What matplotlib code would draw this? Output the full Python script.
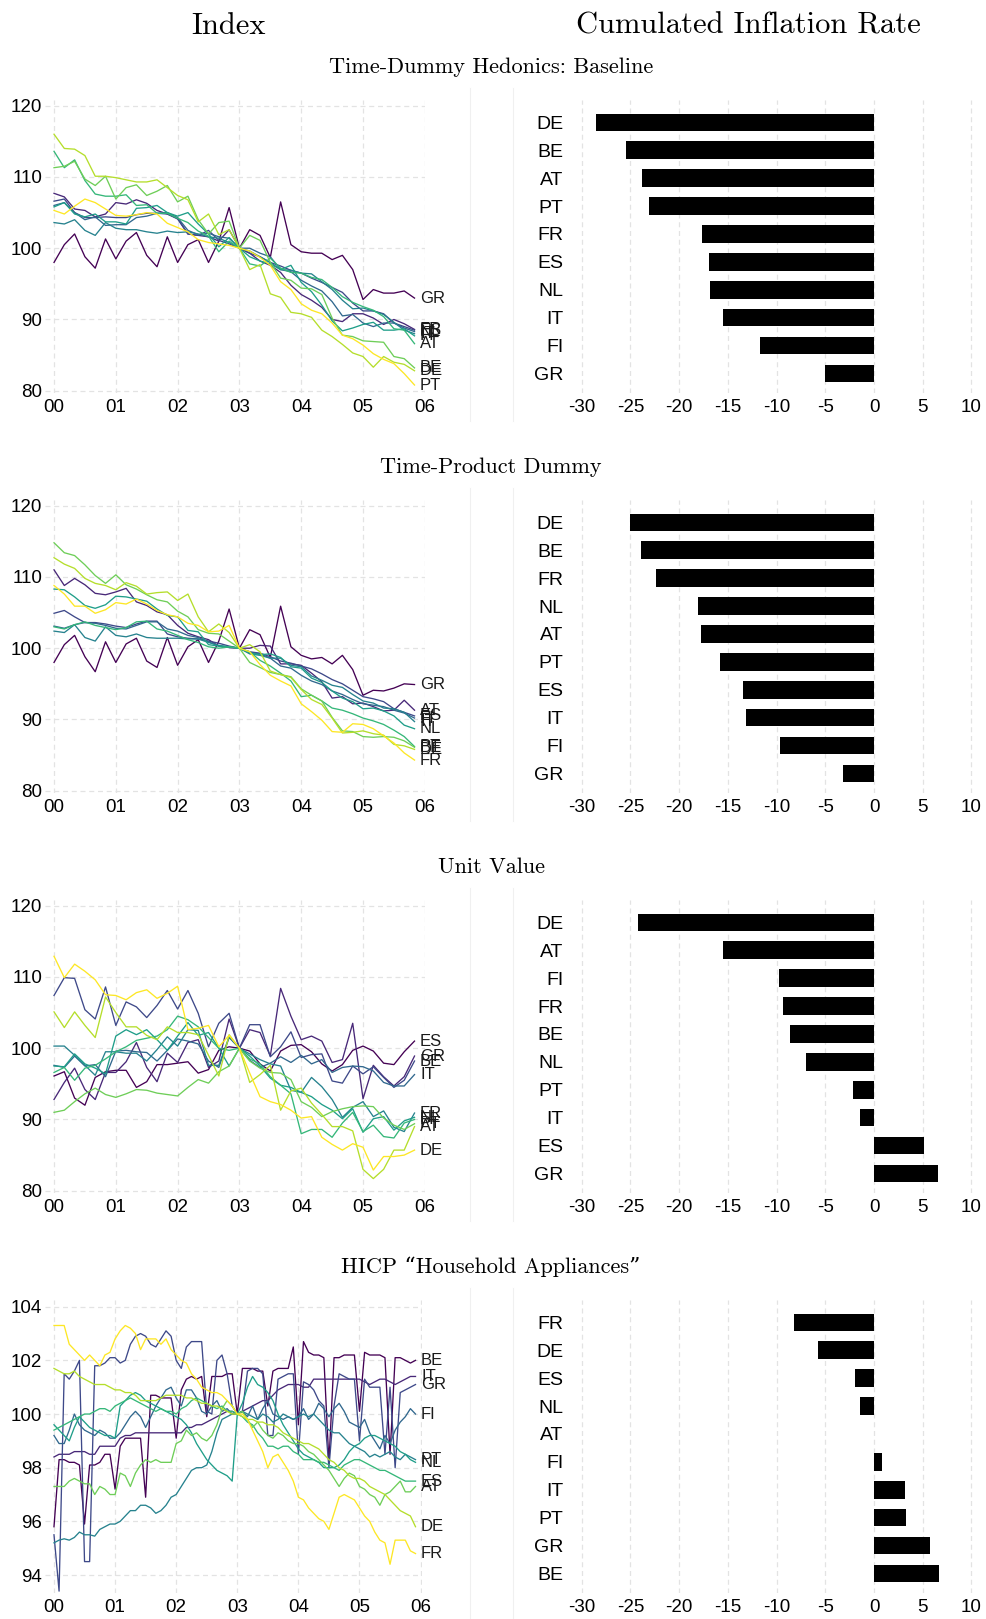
import numpy as np
import matplotlib
matplotlib.use("Agg")
import matplotlib.pyplot as plt
from matplotlib.lines import Line2D

plt.rcParams['font.family'] = ['Liberation Sans', 'DejaVu Sans']
plt.rcParams['axes.unicode_minus'] = False

# ---------------- data ----------------
t_bi = 2000 + np.arange(36) / 6.0      # bi-monthly, panels 1-3
t_mo = 2000 + np.arange(72) / 12.0     # monthly, HICP panel

baseline_idx = {
    "GR": [98, 100.5, 102, 98.8, 97.2, 101.3, 98.5, 101, 102.2, 99, 97.4, 101.6,
           98, 100.5, 101.2, 98, 101, 105.7, 100, 102.6, 101.8, 98.7, 106.5, 100.5,
           99.5, 99.3, 99.3, 98.4, 99, 97, 92.8, 94.2, 93.7, 93.7, 94, 93],
    "FR": [107.7, 107.2, 105.5, 105.3, 104.4, 104.8, 106.4, 106.2, 106.8, 106.3, 105.3, 104.8,
           104.2, 102, 101.8, 101.6, 101, 102.6, 100, 99.3, 98.2, 97.6, 96.6, 94.8,
           93.5, 92.7, 91.7, 90, 89.7, 90.8, 90.8, 90.2, 89.3, 90, 89.4, 88.6],
    "ES": [106.6, 106.9, 105, 104.3, 104.3, 104.4, 104.3, 104.3, 104.7, 104.9, 104.9, 104.8,
           104.1, 102, 101.8, 102.5, 101.1, 100.6, 100, 99.3, 98.8, 98, 97.5, 96.9,
           96.5, 95.8, 95.2, 94.5, 93.8, 92.3, 91.2, 91.2, 90.8, 89.5, 89, 88.5],
    "NL": [106, 106.4, 105, 104, 104.4, 103.2, 103.3, 103.3, 104.3, 104.5, 104.9, 105,
           104.3, 102.5, 101.9, 102.1, 101.6, 101.4, 100, 100, 99.3, 98.8, 97, 96.7,
           95.5, 94.7, 94, 92.5, 90.5, 90.7, 89.5, 89, 89.5, 89.5, 88.8, 88.3],
    "IT": [103.6, 103.4, 104, 102.5, 101.8, 103.6, 102.8, 102.6, 102.6, 102.3, 102.1, 102.4,
           102.2, 102.3, 102, 101.6, 101.4, 100.8, 100, 99.6, 98.8, 98, 97, 96.9,
           96.5, 96.4, 95.3, 94.2, 92.7, 91.5, 91.6, 91.2, 90.7, 89.6, 88.5, 88.0],
    "FI": [105.8, 106.4, 104.8, 104.4, 104.8, 103.7, 103.7, 103.4, 105.6, 105.7, 106.0, 105.0,
           104.5, 105, 103.4, 102, 100.2, 101.5, 100, 98.8, 98.2, 97.8, 97, 97.6,
           95.2, 93.9, 92, 89.8, 88.4, 88.8, 89.3, 89.6, 88.5, 88.5, 88.7, 87.7],
    "AT": [113.6, 111.3, 112.4, 109.5, 107.6, 107.3, 107.3, 107.5, 106.0, 106.1, 104.9, 104.9,
           104.2, 103.6, 102.4, 101.7, 99.5, 101, 100, 97.8, 97.5, 98.6, 97.2, 96.6,
           96.5, 95.9, 95.6, 94.5, 93.2, 92.4, 91.8, 91.3, 90.4, 88.7, 88.5, 86.6],
    "BE": [111.3, 111.5, 112.2, 109.7, 108.8, 110.1, 106.9, 108.5, 108.9, 107.4, 108, 108.8,
           106.5, 107.3, 104, 102, 103.6, 103.8, 100, 101.8, 101.1, 98, 95.8, 95.5,
           94.4, 94.3, 93.5, 90.2, 87.8, 87.6, 87, 86.9, 86.8, 84.8, 84.5, 83.2],
    "DE": [116, 114, 113.9, 113, 110.1, 110.1, 109.9, 109.6, 109.3, 109.3, 109.6, 108.5,
           107.4, 106.8, 103.7, 104.8, 101.9, 102.6, 100, 97, 97.7, 93.6, 93.1, 91,
           90.8, 90.3, 88.5, 87.6, 86.5, 85.3, 84.8, 83.3, 84.8, 84, 83.7, 82.8],
    "PT": [105.3, 104.8, 105.9, 106.9, 106.4, 105.5, 104.6, 104.5, 104.7, 105, 104.8, 103.5,
           102.9, 102.3, 101.2, 100.8, 100.6, 100.4, 100, 99.6, 98.7, 97.6, 95.3, 94.2,
           92.2, 91.3, 90.8, 89.5, 87.8, 87.3, 86.4, 85.2, 84.4, 83.8, 82.4, 80.8],
}

tpd_idx = {
    "GR": [98, 100.5, 101.8, 98.8, 96.7, 100.9, 98, 100.6, 101.4, 98.2, 97.3, 101.5,
           97.6, 100.2, 101.2, 98, 101, 105.5, 100, 102.6, 101.9, 98.7, 105.9, 100.2,
           99, 98.5, 98.7, 97.8, 99, 97, 93.4, 94.1, 94, 94.4, 95, 94.9],
    "AT": [111, 108.8, 109.8, 108.9, 107.7, 107.5, 107.9, 108.4, 106.5, 106, 105.1, 104.7,
           103.2, 102.1, 101.6, 101.2, 100.3, 100.1, 100, 100, 100.4, 100.3, 97.8, 97.8,
           97.6, 96.5, 95.3, 93, 93.2, 92.2, 92.3, 91.8, 91.2, 91.3, 92.7, 91.3],
    "ES": [104.9, 105.3, 104.4, 103.6, 103.6, 103.4, 103.1, 102.9, 103.4, 103.8, 103.8, 102,
           101.6, 101.4, 101.3, 101, 100.7, 100.3, 100, 99.5, 99.3, 98.8, 98.2, 97.9,
           97.5, 97.1, 96.4, 95.6, 95, 94.1, 93.2, 92.9, 92.5, 91.5, 91, 90.5],
    "FI": [103.1, 102.8, 103.3, 103.6, 103.5, 103.2, 102.8, 102.7, 103.2, 103.7, 103.7, 102.7,
           102.4, 101.8, 101.5, 100.9, 100.3, 100.1, 100, 99.4, 99.2, 98.6, 97.5, 97.2,
           96.2, 95.4, 94.9, 94, 93.5, 92.8, 92.2, 92, 91.8, 91.3, 90.9, 90.2],
    "IT": [102.4, 102.2, 103.3, 101.5, 101, 103, 101.8, 101.6, 102, 101.5, 101.4, 101.4,
           101.4, 101.3, 101.3, 100.8, 100.4, 100.2, 100, 99.2, 99, 98.6, 98.6, 97.6,
           97.4, 96.1, 95.5, 94.8, 94.5, 93.5, 92.6, 92.3, 91.6, 91.5, 91, 89.7],
    "NL": [108.3, 108.2, 107.2, 106, 105.6, 106.1, 107.3, 107.2, 106.9, 106.6, 105.5, 104.6,
           104.4, 102.5, 102.3, 100.5, 100.3, 100.2, 100, 99.3, 99.1, 99.2, 98.7, 97.4,
           97.2, 95.8, 95.2, 94, 93, 92.5, 91.5, 91.6, 91.2, 90.5, 89.2, 88.7],
    "PT": [103, 102.7, 103.3, 103.7, 103.2, 102.9, 102.6, 102.9, 103.7, 103.8, 102.7, 102.4,
           101.8, 101.2, 100.8, 100.2, 100, 100.2, 100, 99.5, 98.3, 97.5, 96.5, 95.4,
           93.2, 93.4, 92.6, 91.6, 91.3, 90.8, 90.2, 89.8, 89.3, 88.5, 87.6, 86.2],
    "BE": [114.8, 113.4, 113, 111.7, 110.2, 109.1, 110.3, 108.9, 108.3, 107.5, 106.8, 106.5,
           105.2, 104.4, 102.6, 102.1, 102, 101, 100, 98, 97.3, 96.6, 96.3, 96,
           94.3, 93.4, 92.6, 90.3, 88.4, 88.3, 87.6, 87.5, 87.6, 87.5, 87, 86.1],
    "DE": [112.7, 111.8, 111.2, 109.8, 109.1, 108.8, 108.2, 109.2, 108.7, 107.6, 107.8, 107.9,
           106.7, 107.6, 104.4, 102.3, 103.4, 102.2, 100, 100.5, 99.5, 96.8, 96.3, 95.9,
           94.2, 92.8, 92.1, 90.2, 88.1, 88.2, 88.4, 88, 87.8, 86.5, 86.3, 85.8],
    "FR": [108.8, 107.6, 105.9, 105.9, 104.9, 105.4, 106.4, 106.2, 106.9, 106.2, 105.3, 104.7,
           104.4, 103.5, 103.2, 102.3, 102.4, 103.2, 100, 99.5, 97.7, 96.2, 95.4, 94.7,
           92.2, 91.1, 89.9, 88.3, 88.2, 89.4, 89.3, 88.7, 87.7, 86.7, 85.3, 84.3],
}

uv_idx = {
    "ES": [96.1, 96.7, 93, 92, 95.9, 96.7, 96.9, 96.9, 94.5, 95.3, 97.7, 97.7,
           97.9, 98.1, 96.5, 97, 99.7, 100.2, 100, 99.6, 97.8, 96.8, 99.6, 100.4,
           100.5, 99.5, 97.8, 96.8, 97.7, 99.7, 100.3, 99.6, 97.9, 97.7, 99.5, 101],
    "GR": [92.8, 95.2, 97.2, 94.2, 92.8, 96.6, 96.6, 98.1, 100.8, 97.3, 95.3, 99.3,
           98.0, 100.8, 101.2, 97.3, 98.2, 104.1, 100, 102.6, 102.2, 98.9, 108.4, 104.5,
           101.2, 101.7, 101.0, 98.0, 98.4, 103.5, 92.9, 97.6, 96.0, 94.7, 96.0, 98.9],
    "BE": [107.4, 109.9, 109.8, 105.4, 104.1, 108.6, 103.2, 106.5, 105.8, 104.3, 106.0, 108.1,
           105.5, 108.1, 104.9, 100.2, 103.5, 104.9, 100, 103.3, 103.3, 98.8, 100.2, 102.3,
           98.7, 99.1, 99.2, 95.4, 95.1, 97.5, 96.4, 97.4, 95.9, 94.5, 95.5, 98.2],
    "IT": [97.6, 97.3, 98.9, 97.5, 97.7, 96.0, 99.6, 99.7, 99.5, 99.4, 98.2, 99.7,
           101.3, 101.0, 100.6, 98.2, 97.3, 101.5, 100, 98.3, 97.3, 97.9, 98.8, 98.0,
           99.0, 97.8, 98.4, 96.6, 97.3, 97.5, 97.4, 96.8, 95.2, 94.7, 94.7, 96.3],
    "FR": [100.3, 100.3, 99.0, 97.6, 96.2, 99.5, 99.5, 99.3, 99.3, 98.2, 99.8, 101.6,
           100.3, 102.6, 102.5, 97.6, 97.6, 101.6, 100, 99.2, 98.4, 97.8, 97.5, 94.1,
           93.8, 95.9, 94.6, 92.8, 90.3, 91.7, 92.5, 90.4, 91.2, 88.9, 88.3, 90.9],
    "NL": [97.5, 97.4, 99.2, 97.8, 97.2, 96.4, 101.7, 102.6, 101.9, 102.6, 101.2, 99.7,
           101.7, 103.6, 101.8, 102.2, 100, 97.5, 100, 98.9, 97.5, 95.8, 94.8, 94.5,
           93.8, 93.2, 92.1, 91.3, 90.1, 91.5, 88.2, 90.1, 90.4, 88.5, 89.8, 90.3],
    "FI": [96.6, 97.3, 95.5, 97.2, 97.6, 98.5, 99.5, 100.2, 101.1, 101.4, 101.7, 102.6,
           104.5, 104, 103, 101.5, 100, 99.7, 100, 98.5, 97.8, 96, 94.8, 93.6,
           88, 88.6, 88.6, 87.5, 89.5, 91, 88.3, 89.2, 87.6, 87.4, 89.5, 90.0],
    "PT": [91, 91.3, 92.5, 93.6, 94.4, 93.5, 93.1, 93.6, 94.2, 94.1, 93.7, 93.5,
           93.3, 94.5, 95.6, 95.1, 96.7, 97.5, 100, 98.2, 97.2, 96.6, 96.5, 95.6,
           92.5, 91.7, 90.4, 91.1, 91.5, 91.8, 91.9, 91.8, 90.2, 89.2, 88.6, 89.4],
    "AT": [105.1, 102.9, 105.1, 103.2, 101.5, 107.2, 105, 103, 103, 101.8, 101.2, 103,
           102.2, 102.2, 101.9, 99, 96.1, 101.9, 100, 95.2, 96.3, 97.6, 91.3, 94,
           94.4, 92.3, 90.7, 89, 89, 88.4, 83, 81.7, 83, 85.7, 85.7, 89.0],
    "DE": [112.9, 109.9, 111.8, 110.8, 109.6, 107.5, 107.4, 106.8, 107.8, 108.2, 107, 107.7,
           108.7, 102.6, 102.8, 103.2, 100.2, 101.8, 100, 96.5, 93.2, 92.5, 92.1, 91.3,
           90.2, 90.4, 87.5, 86.5, 85.7, 86.6, 86.1, 82.9, 84.8, 84.8, 85.0, 85.7],
}

hicp_idx = {
    "BE": [95.8, 98.3, 98.3, 98.2, 98.2, 98.1, 95.9, 98.1, 98.1, 98.2, 98.5, 98.5,
           97.2, 98.8, 99.1, 99.1, 99.1, 99.1, 96.9, 100.7, 100.7, 100.6, 100.6, 100.6,
           99.1, 100.9, 101.3, 101.4, 101.3, 101.4, 99.9, 101.4, 101.4, 101.4, 101.5, 101.5,
           100.0, 101.7, 101.7, 101.7, 101.6, 101.6, 100.3, 101.6, 101.7, 101.7, 101.7, 102.5,
           99.6, 102.7, 102.3, 102.2, 102.2, 102.1, 98.2, 102.1, 102.1, 102.2, 102.2, 102.2,
           100.1, 102.3, 102.2, 102.2, 102.2, 102.1, 98.5, 102.1, 102.1, 102.0, 101.9, 102.0],
    "IT": [98.4, 98.5, 98.5, 98.5, 98.6, 98.6, 98.6, 98.5, 98.5, 98.8, 98.8, 98.8,
           98.8, 99.1, 99.2, 99.2, 99.3, 99.3, 99.3, 99.3, 99.3, 99.3, 99.3, 99.3,
           99.3, 99.3, 99.5, 99.5, 99.6, 99.6, 99.7, 99.8, 99.9, 100.0, 100.1, 100.1,
           100.0, 100.1, 100.2, 100.3, 100.4, 100.5, 100.5, 100.7, 100.9, 101.0, 101.1, 101.1,
           101.1, 101.0, 101.0, 101.3, 101.3, 101.3, 101.3, 101.3, 101.3, 101.3, 101.3, 101.3,
           101.3, 101.2, 101.1, 101.2, 101.3, 101.3, 101.2, 101.1, 101.2, 101.3, 101.4, 101.4],
    "GR": [95.5, 93.4, 101.5, 101.3, 101.6, 102.0, 94.5, 94.5, 101.8, 101.8, 101.9, 102.1,
           102.1, 101.9, 102.0, 102.6, 102.9, 103.0, 102.9, 102.6, 102.5, 102.8, 103.1, 102.9,
           102.0, 101.7, 102.5, 102.7, 102.7, 102.7, 100.1, 100.0, 102.0, 102.2, 101.5, 100.3,
           100.0, 100.1, 101.6, 101.7, 101.7, 101.5, 99.2, 99.2, 101.3, 101.4, 101.5, 101.5,
           98.5, 101.2, 101.1, 100.9, 100.5, 100.3, 98.0, 100.3, 101.5, 101.4, 101.3, 101.3,
           99.0, 101.3, 101.0, 101.0, 101.0, 98.5, 101.0, 98.0, 100.8, 100.9, 101.0, 101.1],
    "FI": [99.2, 98.9, 98.9, 99.4, 100.0, 99.6, 99.4, 99.3, 99.2, 99.4, 99.3, 99.1,
           99.1, 99.3, 99.6, 99.9, 100.1, 99.9, 99.5, 99.9, 100.3, 100.6, 100.9, 101.0,
           100.6, 100.3, 100.9, 100.9, 100.6, 100.1, 100.0, 100.3, 100.5, 100.1, 100.2, 100.0,
           100.0, 100.1, 99.9, 100.3, 99.8, 100.2, 100.5, 100.0, 99.9, 99.8, 99.9, 99.8,
           99.9, 100.2, 99.8, 100.0, 100.4, 100.2, 99.9, 100.2, 100.4, 100.1, 99.7, 99.6,
           99.5, 99.8, 99.3, 99.0, 98.7, 99.2, 98.9, 99.4, 99.7, 99.9, 100.2, 100.0],
    "PT": [95.2, 95.3, 95.35, 95.3, 95.4, 95.6, 95.5, 95.5, 95.45, 95.7, 95.8, 95.9,
           95.9, 96.0, 96.2, 96.4, 96.4, 96.6, 96.6, 96.5, 96.3, 96.4, 96.6, 96.9,
           97.0, 97.3, 97.6, 97.9, 98.0, 98.0, 98.1, 98.6, 99.3, 99.8, 99.9, 100.0,
           100.0, 100.1, 100.0, 99.9, 99.8, 100.0, 99.9, 99.7, 99.8, 100.0, 99.9, 99.8,
           99.9, 100.0, 99.9, 100.0, 99.8, 99.6, 99.4, 99.3, 99.3, 99.1, 98.9, 98.8,
           98.7, 98.6, 98.4, 98.5, 98.4, 98.5, 98.6, 98.4, 98.3, 98.5, 98.4, 98.3],
    "NL": [99.6, 99.4, 99.2, 99.0, 99.5, 99.9, 99.7, 99.5, 99.4, 99.3, 99.2, 99.2,
           99.1, 100.3, 100.5, 100.7, 100.8, 100.7, 100.5, 100.4, 100.3, 100.2, 100.1, 100.0,
           99.9, 99.8, 99.6, 99.3, 98.9, 98.6, 98.3, 98.1, 97.9, 97.8, 97.7, 97.5,
           100.0, 100.4, 101.0, 101.4, 101.1, 101.0, 100.8, 100.5, 100.0, 99.6, 99.3, 99.0,
           98.7, 98.5, 98.4, 98.3, 98.2, 98.0, 98.0, 98.0, 98.1, 98.3, 98.6, 98.8,
           98.9, 99.1, 99.2, 99.2, 99.1, 99.0, 98.9, 98.8, 98.6, 98.5, 98.3, 98.2],
    "ES": [99.4, 99.5, 99.6, 99.7, 99.8, 99.9, 100.0, 100.0, 100.1, 100.2, 100.2, 100.1,
           100.3, 100.4, 100.5, 100.6, 100.5, 100.4, 100.3, 100.2, 100.1, 100.2, 100.1, 100.1,
           100.0, 100.2, 100.3, 100.5, 100.6, 100.5, 100.4, 100.3, 100.2, 100.3, 100.1, 100.1,
           100.0, 99.9, 99.7, 99.6, 99.3, 99.1, 98.8, 98.8, 98.7, 98.8, 98.8, 98.6,
           98.5, 98.3, 98.3, 98.3, 98.2, 98.2, 98.1, 98.0, 97.9, 98.1, 98.2, 98.3,
           98.3, 98.2, 98.1, 98.0, 97.9, 97.9, 97.8, 97.7, 97.6, 97.5, 97.5, 97.5],
    "AT": [97.3, 97.3, 97.3, 97.5, 97.6, 97.5, 97.4, 97.4, 97.0, 97.3, 97.2, 97.0,
           97.0, 97.8, 97.7, 97.3, 97.8, 98.1, 98.3, 98.2, 98.3, 98.2, 98.2, 98.2,
           98.9, 99.0, 99.4, 99.2, 99.3, 99.1, 99.0, 99.2, 99.6, 100.2, 100.5, 100.3,
           100.0, 100.1, 99.8, 99.5, 99.7, 99.4, 99.2, 99.1, 99.3, 99.2, 99.0, 98.9,
           98.9, 98.8, 98.6, 98.5, 98.3, 98.1, 97.9, 97.6, 97.3, 97.6, 97.8, 97.7,
           97.3, 97.2, 97.0, 96.9, 96.6, 97.0, 97.1, 97.3, 97.5, 97.1, 97.1, 97.3],
    "DE": [101.7, 101.6, 101.5, 101.5, 101.6, 101.4, 101.3, 101.2, 101.1, 101.1, 101.1, 101.0,
           100.9, 100.9, 100.8, 100.8, 100.7, 100.5, 100.5, 100.5, 100.5, 100.6, 100.7, 100.7,
           100.7, 100.7, 100.6, 100.6, 100.5, 100.4, 100.4, 100.3, 100.3, 100.2, 100.1, 100.0,
           100.0, 99.9, 99.8, 99.8, 99.7, 99.7, 99.6, 99.6, 99.5, 99.3, 99.2, 99.1,
           99.0, 98.9, 98.9, 98.8, 98.7, 98.5, 98.3, 98.2, 98.0, 97.9, 97.7, 97.6,
           97.6, 97.5, 97.3, 97.2, 97.1, 97.0, 96.8, 96.6, 96.4, 96.3, 96.2, 95.8],
    "FR": [103.3, 103.3, 103.3, 102.6, 102.4, 102.2, 102.0, 102.2, 102.0, 101.8, 102.2, 102.3,
           102.8, 103.1, 103.3, 103.2, 103.0, 102.4, 102.8, 102.8, 102.8, 102.6, 102.8, 102.4,
           102.2, 102.0, 101.9, 101.5, 101.3, 101.0, 100.9, 100.8, 100.8, 100.7, 100.5, 100.3,
           100.0, 100.0, 99.8, 99.4, 99.0, 98.6, 98.0, 98.4, 98.5, 98.2, 97.9, 97.5,
           96.9, 96.8, 96.5, 96.3, 96.1, 96.0, 95.7, 96.3, 96.9, 97.0, 96.9, 96.8,
           96.5, 96.2, 96.0, 95.6, 95.3, 95.2, 94.4, 95.3, 95.3, 95.3, 94.9, 94.8],
}

baseline_bar_ctry = ["DE", "BE", "AT", "PT", "FR", "ES", "NL", "IT", "FI", "GR"]
baseline_bar_val = [-28.5, -25.5, -23.8, -23.1, -17.7, -16.9, -16.8, -15.5, -11.7, -5.0]
tpd_bar_ctry = ["DE", "BE", "FR", "NL", "AT", "PT", "ES", "IT", "FI", "GR"]
tpd_bar_val = [-25.0, -23.9, -22.4, -18.1, -17.8, -15.8, -13.5, -13.1, -9.7, -3.15]
uv_bar_ctry = ["DE", "AT", "FI", "FR", "BE", "NL", "PT", "IT", "ES", "GR"]
uv_bar_val = [-24.25, -15.5, -9.76, -9.35, -8.63, -6.99, -2.16, -1.40, 5.14, 6.58]
hicp_bar_ctry = ["FR", "DE", "ES", "NL", "AT", "FI", "IT", "PT", "GR", "BE"]
hicp_bar_val = [-8.25, -5.75, -1.92, -1.40, 0.0, 0.82, 3.18, 3.32, 5.75, 6.71]

row_titles = ["Time-Dummy Hedonics: Baseline", "Time-Product Dummy", "Unit Value",
              "HICP \u201cHousehold Appliances\u201d"]
year_labels = ["00", "01", "02", "03", "04", "05", "06"]

# ---------------- layout ----------------
W, H = 986, 1619
fig = plt.figure(figsize=(W / 100, H / 100), dpi=100)
GRID = dict(color="#e3e3e3", linestyle=(0, (4, 3)), linewidth=0.9)
SERIF = ["cmr10", "DejaVu Serif"]


def px_axes(x0, y0, x1, y1):
    return fig.add_axes([x0 / W, 1 - y1 / H, (x1 - x0) / W, (y1 - y0) / H])


def clean(ax):
    for s in ax.spines.values():
        s.set_visible(False)
    ax.tick_params(length=0)


def line_panel(ax, data, t, yticks, ylim, xlim):
    # colour by rank of the last value (viridis, highest = dark)
    names = sorted(data, key=lambda k: -data[k][-1])
    cols = plt.cm.viridis(np.linspace(0, 1, len(names)))
    for nm, c in zip(names, cols):
        ax.plot(t, data[nm], color=c, lw=0.95, zorder=3)
        ax.text(t[-1] + 0.09, data[nm][-1], nm, fontsize=12, color="#1a1a1a",
                va="center", ha="left", clip_on=False)
    ax.set_xlim(*xlim)
    ax.set_ylim(*ylim)
    ax.set_xticks(np.arange(2000, 2007))
    ax.set_xticklabels(year_labels)
    ax.set_yticks(yticks)
    ax.grid(True, **GRID)
    ax.set_axisbelow(True)
    clean(ax)
    ax.tick_params(axis="x", labelsize=13.5, pad=4, colors="black")
    ax.tick_params(axis="y", labelsize=13.5, pad=2, colors="black")


def bar_panel(ax, ctry, vals):
    pos = np.arange(len(ctry))
    ax.barh(pos, vals, height=0.63, color="black", zorder=3)
    ax.set_yticks(pos)
    ax.set_yticklabels(ctry)
    ax.set_ylim(9.7, -0.8)
    ax.set_xlim(-31, 10.3)
    ax.set_xticks(np.arange(-30, 11, 5))
    ax.grid(True, axis="x", **GRID)
    ax.set_axisbelow(True)
    clean(ax)
    ax.tick_params(axis="x", labelsize=13.5, pad=4)
    ax.tick_params(axis="y", labelsize=14, pad=6)


line_sets = [baseline_idx, tpd_idx, uv_idx, hicp_idx]
bar_sets = [(baseline_bar_ctry, baseline_bar_val), (tpd_bar_ctry, tpd_bar_val),
            (uv_bar_ctry, uv_bar_val), (hicp_bar_ctry, hicp_bar_val)]

for r in range(4):
    top = 100 + 400 * r
    bot = top + 293
    if r < 3:
        axl = px_axes(45, top, 425, bot)
        line_panel(axl, line_sets[r], t_bi, [80, 90, 100, 110, 120],
                   (79.68, 120.8), (1999.854, 2006.003))
    else:
        axl = px_axes(45, top, 421.7, bot)
        line_panel(axl, line_sets[r], t_mo, [94, 96, 98, 100, 102, 104],
                   (93.33, 104.25), (1999.853, 2006.018))
    axr = px_axes(572, top, 974.4, bot)
    bar_panel(axr, *bar_sets[r])

    # faint panel separators
    for xs in (470, 513):
        fig.add_artist(Line2D([xs / W, xs / W], [1 - (top - 12) / H, 1 - (bot + 28) / H],
                              color="#f0f0f0", lw=0.8))
    fig.text(491 / W, 1 - (67 + 400 * r) / H, row_titles[r], family=SERIF,
             fontsize=16, ha="center", va="center")

fig.text(229 / W, 1 - 26 / H, "Index", family=SERIF, fontsize=22, ha="center", va="center")
fig.text(748.5 / W, 1 - 26 / H, "Cumulated Inflation Rate", family=SERIF, fontsize=22,
         ha="center", va="center")

fig.savefig("out.png", dpi=100, facecolor="white")
